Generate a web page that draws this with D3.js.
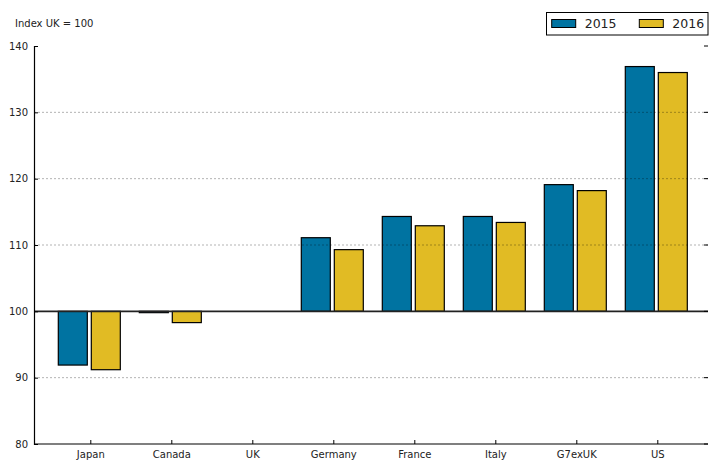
<html>
<head>
<script src="https://d3js.org/d3.v7.min.js"></script>
<style>
  body { margin: 0; background: white; }
  text { font-family: "DejaVu Sans", sans-serif; fill: #222; }
</style>
</head>
<body>
<script>
var width = 720;
var height = 468;

// data
var countries = ["Japan", "Canada", "UK", "Germany", "France", "Italy", "G7exUK", "US"];
var years = ["2015", "2016"];
var values2015 = [91.9, 99.8, 100, 111.1, 114.3, 114.3, 119.1, 136.9];
var values2016 = [91.2, 98.3, 100, 109.3, 112.9, 113.4, 118.2, 136.0];
var yTicks = [80, 90, 100, 110, 120, 130, 140];
var colors = ["#0073a1", "#e1bb24"];

var plotLeft = 34, plotRight = 708, plotTop = 46, plotBottom = 444;

var svg = d3.select("body").append("svg")
   .attr("width", width)
   .attr("height", height);

var x = d3.scalePoint()
   .domain(countries)
   .range([90.3, 657.3]);

var y = d3.scaleLinear()
   .domain([80, 140])
   .range([plotBottom, plotTop]);

var barW = 29;
var offsets = [-32, 1];
var series = [values2015, values2016];

// bars
series.forEach(function(vals, s) {
   svg.append("g").selectAll("rect")
      .data(vals)
      .enter()
      .append("rect")
      .attr("x", function(d, i) { return x(countries[i]) + offsets[s]; })
      .attr("y", function(d) { return y(Math.max(d, 100)); })
      .attr("width", barW)
      .attr("height", function(d) { return Math.abs(y(d) - y(100)); })
      .attr("fill", colors[s])
      .attr("stroke", "#000")
      .attr("stroke-width", 1.2);
});

// grid lines (drawn over the bars)
svg.append("g").selectAll("line")
   .data(yTicks.filter(function(t) { return t != 80 && t != 140 && t != 100; }))
   .enter()
   .append("line")
   .attr("x1", plotLeft).attr("x2", plotRight)
   .attr("y1", function(d) { return y(d); })
   .attr("y2", function(d) { return y(d); })
   .attr("stroke", "#000")
   .attr("stroke-opacity", 0.3)
   .attr("stroke-dasharray", "2,2");

// line at 100
svg.append("line")
   .attr("x1", plotLeft).attr("x2", plotRight)
   .attr("y1", y(100)).attr("y2", y(100))
   .attr("stroke", "#222")
   .attr("stroke-width", 1.6);

// y axis
var yAxis = d3.axisLeft(y).tickValues(yTicks).tickSize(-4).tickPadding(6);
var gy = svg.append("g")
   .attr("transform", "translate(" + plotLeft + ",0)")
   .call(yAxis);
gy.select(".domain").attr("stroke", "#000").attr("stroke-width", 1.2);
gy.selectAll("text").style("font-size", "10px").attr("fill", "#222");

// right-side inner ticks
svg.append("g").selectAll("line")
   .data(yTicks)
   .enter()
   .append("line")
   .attr("x1", plotRight - 4).attr("x2", plotRight)
   .attr("y1", function(d) { return y(d); })
   .attr("y2", function(d) { return y(d); })
   .attr("stroke", "#000");

// x axis
var xAxis = d3.axisBottom(x).tickSize(-4).tickPadding(7);
var gx = svg.append("g")
   .attr("transform", "translate(0," + plotBottom + ")")
   .call(xAxis);
gx.select(".domain").attr("d", "M" + plotLeft + ",0H" + plotRight).attr("stroke", "#000").attr("stroke-width", 1.2);
gx.selectAll("text").style("font-size", "10px").attr("fill", "#222");

// label
svg.append("text")
   .attr("x", 15).attr("y", 27)
   .style("font-size", "10px")
   .text("Index UK = 100");

// legend
var lg = svg.append("g");
lg.append("rect")
   .attr("x", 546.5).attr("y", 12.5)
   .attr("width", 161.5).attr("height", 22.5)
   .attr("fill", "white")
   .attr("stroke", "#000");
years.forEach(function(yr, i) {
   var lx = 551.7 + i * 87.6;
   lg.append("rect")
      .attr("x", lx).attr("y", 19.5)
      .attr("width", 24).attr("height", 8)
      .attr("fill", colors[i])
      .attr("stroke", "#000");
   lg.append("text")
      .attr("x", lx + 33).attr("y", 28)
      .style("font-size", "12.5px")
      .text(yr);
});
</script>
</body>
</html>
